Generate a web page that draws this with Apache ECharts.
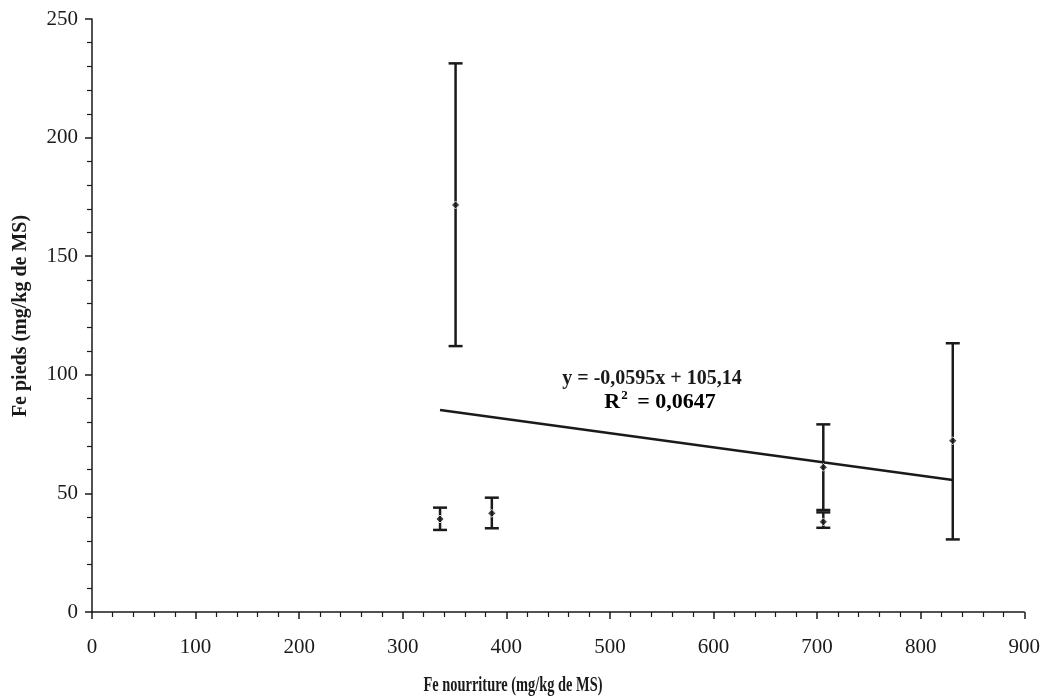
<!DOCTYPE html>
<html>
<head>
<meta charset="utf-8">
<script src="https://cdn.jsdelivr.net/npm/echarts@6/dist/echarts.min.js"></script>
<style>
html,body{margin:0;padding:0;background:#fff;}
#c{width:1043px;height:700px;}
</style>
</head>
<body>
<div id="c"></div>
<script>
// Data
const feNourriture = [336, 351, 386, 706, 706, 831];
const fePieds      = [39.2, 171.6, 41.6, 61.0, 38.0, 72.2];
const errLow       = [34.6, 112.1, 35.3, 43.0, 35.5, 30.6];
const errHigh      = [44.0, 231.3, 48.2, 79.1, 42.0, 113.3];
const trendSlope = -0.0595;
const trendIntercept = 105.14;
const trendLabel = 'y = -0,0595x + 105,14';
const r2Label = '{r|R}{s|2}{r| = 0,0647}';
const xTitle = 'Fe nourriture (mg/kg de MS)';
const yTitle = 'Fe pieds (mg/kg de MS)';

const serif = '"Liberation Serif", "DejaVu Serif", serif';
const ink = '#1a1a1a';

const points = feNourriture.map((x, i) => [x, fePieds[i]]);
const errors = feNourriture.map((x, i) => [x, errLow[i], errHigh[i]]);
const xMin = Math.min(...feNourriture), xMax = Math.max(...feNourriture);
const trend = [xMin, xMax].map(x => [x, trendSlope * x + trendIntercept]);

const chart = echarts.init(document.getElementById('c'));
chart.setOption({
  backgroundColor: '#ffffff',
  animation: false,
  grid: {left: 92, right: 15, top: 19, bottom: 88},
  xAxis: {
    type: 'value', min: 0, max: 900, interval: 100,
    axisLine: {show: true, onZero: false, lineStyle: {color: ink, width: 1.5}},
    axisTick: {show: true, length: 7, lineStyle: {color: ink, width: 1.5}},
    minorTick: {show: true, splitNumber: 5, length: 5, lineStyle: {color: ink, width: 1.2}},
    axisLabel: {fontFamily: serif, fontSize: 21, color: ink, margin: 25},
    splitLine: {show: false}
  },
  yAxis: {
    type: 'value', min: 0, max: 250, interval: 50,
    axisLine: {show: true, onZero: false, lineStyle: {color: ink, width: 1.5}},
    axisTick: {show: true, length: 7, lineStyle: {color: ink, width: 1.5}},
    minorTick: {show: true, splitNumber: 5, length: 5, lineStyle: {color: ink, width: 1.2}},
    axisLabel: {fontFamily: serif, fontSize: 21, color: ink, margin: 14},
    splitLine: {show: false}
  },
  series: [
    {
      type: 'custom',
      data: errors,
      renderItem: function (params, api) {
        const x = api.value(0);
        const lo = api.coord([x, api.value(1)]);
        const hi = api.coord([x, api.value(2)]);
        const hw = 7;
        const style = {stroke: ink, lineWidth: 2.5};
        return {
          type: 'group',
          children: [
            {type: 'line', shape: {x1: lo[0], y1: lo[1], x2: hi[0], y2: hi[1]}, style: style},
            {type: 'line', shape: {x1: hi[0] - hw, y1: hi[1], x2: hi[0] + hw, y2: hi[1]}, style: style},
            {type: 'line', shape: {x1: lo[0] - hw, y1: lo[1], x2: lo[0] + hw, y2: lo[1]}, style: style}
          ]
        };
      },
      z: 2
    },
    {
      type: 'line',
      data: trend,
      symbol: 'none',
      lineStyle: {color: ink, width: 2.5},
      z: 3
    },
    {
      type: 'scatter',
      data: points,
      symbol: 'diamond',
      symbolSize: 8,
      itemStyle: {color: ink, borderColor: '#fff', borderWidth: 1},
      z: 4
    }
  ],
  graphic: [
    {type: 'text', x: 652, y: 379, style: {text: trendLabel, fontFamily: serif, fontWeight: 'bold', fontSize: 20, fill: ink, align: 'center', verticalAlign: 'middle'}},
    {type: 'text', x: 660, y: 402, style: {
      text: r2Label, align: 'center', verticalAlign: 'middle',
      rich: {
        r: {fontFamily: serif, fontWeight: 'bold', fontSize: 22, color: ink},
        s: {fontFamily: serif, fontWeight: 'bold', fontSize: 13, color: ink, verticalAlign: 'top', padding: [0, 4, 12, 1]}
      }
    }},
    {type: 'text', x: 513, y: 686, scaleX: 0.72, style: {text: xTitle, fontFamily: serif, fontWeight: 'bold', fontSize: 20, fill: ink, align: 'center', verticalAlign: 'middle'}},
    {type: 'text', x: 21, y: 316, rotation: Math.PI / 2, style: {text: yTitle, fontFamily: serif, fontWeight: 'bold', fontSize: 20, fill: ink, align: 'center', verticalAlign: 'middle'}}
  ]
});
</script>
</body>
</html>
